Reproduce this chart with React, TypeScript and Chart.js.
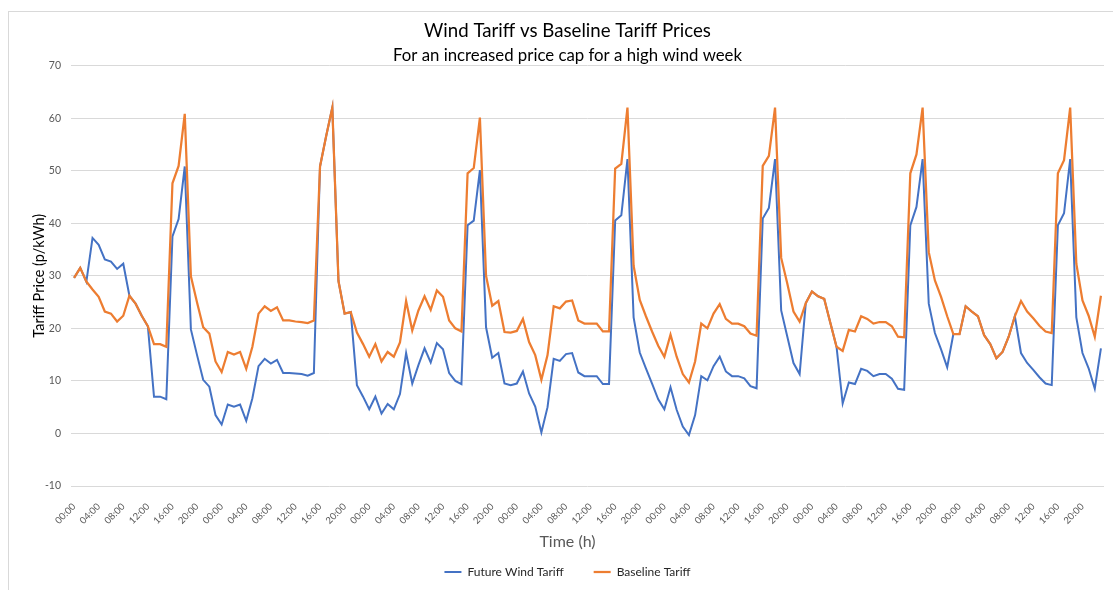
import React, { useEffect, useRef } from "react";
import { Chart, registerables } from "chart.js";

Chart.register(...registerables);

// Hour-of-day category labels, one per hourly reading, repeated over the week.
const HOURS = [
  "00:00", "01:00", "02:00", "03:00", "04:00", "05:00", "06:00", "07:00",
  "08:00", "09:00", "10:00", "11:00", "12:00", "13:00", "14:00", "15:00",
  "16:00", "17:00", "18:00", "19:00", "20:00", "21:00", "22:00", "23:00",
];
const DAYS = 7;
const TIME_LABELS: string[] = [];
for (let d = 0; d < DAYS; d++) TIME_LABELS.push(...HOURS);

// Only every fourth hour carries a visible tick label.
const LABEL_EVERY = 4;

// Y-axis range and step (p/kWh).
const Y_MIN = -10;
const Y_MAX = 70;
const Y_STEP = 10;

// Hourly prices, p/kWh.
const futureWindTariff = [
  // day 1
  29.6, 31.5, 28.9, 37.2, 35.9, 33.1, 32.7, 31.3, 32.3, 26.2, 24.7, 22.4,
  20.4, 7.0, 7.0, 6.5, 37.5, 40.8, 50.8, 19.8, 14.9, 10.2, 8.9, 3.5,
  // day 2
  1.7, 5.5, 5.1, 5.5, 2.4, 6.7, 12.8, 14.2, 13.3, 14.0, 11.5, 11.5,
  11.4, 11.3, 11.0, 11.5, 50.8, 56.6, 62.0, 29.0, 22.8, 23.1, 9.2, 7.0,
  // day 3
  4.6, 7.0, 3.8, 5.6, 4.6, 7.5, 15.3, 9.5, 13.0, 16.2, 13.5, 17.2,
  16.0, 11.5, 10.0, 9.4, 39.6, 40.5, 50.1, 20.2, 14.4, 15.3, 9.5, 9.2,
  // day 4
  9.5, 11.8, 7.6, 5.1, 0.2, 5.0, 14.2, 13.8, 15.1, 15.3, 11.6, 10.9,
  10.9, 10.9, 9.4, 9.4, 40.5, 41.5, 52.2, 22.1, 15.4, 12.4, 9.5, 6.5,
  // day 5
  4.6, 8.8, 4.5, 1.3, -0.3, 3.5, 10.9, 10.1, 12.8, 14.6, 11.8, 10.9,
  10.9, 10.5, 9.0, 8.6, 40.9, 42.9, 52.2, 23.4, 18.4, 13.4, 11.3, 24.8,
  // day 6
  27.0, 26.1, 25.6, 21.0, 16.5, 5.7, 9.7, 9.4, 12.3, 11.9, 10.9, 11.3,
  11.3, 10.4, 8.5, 8.3, 39.6, 43.1, 52.2, 24.7, 19.1, 16.0, 12.6, 18.9,
  // day 7
  18.9, 24.2, 23.2, 22.3, 18.7, 17.0, 14.3, 15.5, 18.4, 22.3, 15.3, 13.4,
  12.1, 10.7, 9.5, 9.2, 39.6, 41.9, 52.2, 22.1, 15.3, 12.4, 8.5, 16.2,
];

const baselineTariff = [
  // day 1
  29.6, 31.5, 28.9, 27.4, 26.0, 23.2, 22.8, 21.3, 22.4, 26.2, 24.7, 22.4,
  20.4, 17.0, 17.0, 16.5, 47.6, 50.9, 60.8, 29.9, 24.9, 20.2, 19.0, 13.7,
  // day 2
  11.7, 15.5, 15.0, 15.5, 12.3, 16.5, 22.8, 24.2, 23.3, 24.0, 21.5, 21.5,
  21.3, 21.2, 21.0, 21.5, 50.8, 56.6, 62.0, 29.0, 22.8, 23.1, 19.2, 17.0,
  // day 3
  14.6, 17.0, 13.7, 15.5, 14.6, 17.3, 25.2, 19.6, 23.4, 26.1, 23.5, 27.2,
  26.0, 21.5, 20.0, 19.4, 49.5, 50.5, 60.1, 30.0, 24.3, 25.2, 19.3, 19.2,
  // day 4
  19.5, 21.8, 17.4, 14.9, 10.2, 14.9, 24.2, 23.8, 25.1, 25.3, 21.5, 20.9,
  20.9, 20.9, 19.4, 19.4, 50.4, 51.3, 62.0, 31.9, 25.4, 22.3, 19.4, 16.7,
  // day 5
  14.6, 18.8, 14.6, 11.3, 9.7, 13.7, 20.9, 20.0, 22.8, 24.6, 21.8, 20.9,
  20.9, 20.4, 19.0, 18.6, 50.9, 52.8, 62.0, 33.4, 28.5, 23.2, 21.3, 24.8,
  // day 6
  27.0, 26.1, 25.6, 21.0, 16.5, 15.7, 19.7, 19.4, 22.3, 21.8, 20.9, 21.2,
  21.2, 20.4, 18.4, 18.3, 49.5, 53.1, 62.0, 34.5, 29.1, 26.0, 22.3, 18.9,
  // day 7
  18.9, 24.2, 23.2, 22.3, 18.7, 17.0, 14.3, 15.5, 18.4, 22.3, 25.2, 23.2,
  21.9, 20.5, 19.4, 19.1, 49.5, 52.0, 62.0, 32.3, 25.3, 22.4, 18.4, 26.2,
];

const FONT = "Lato, 'Noto Sans', sans-serif";
const BLUE = "#4472C4";
const ORANGE = "#ED7D31";

export default function App() {
  const canvasRef = useRef<HTMLCanvasElement | null>(null);

  useEffect(() => {
    const canvas = canvasRef.current;
    if (!canvas) return;

    const chart = new Chart(canvas, {
      type: "line",
      data: {
        labels: TIME_LABELS,
        datasets: [
          {
            label: "Future Wind Tariff",
            data: futureWindTariff,
            borderColor: BLUE,
            backgroundColor: BLUE,
            borderWidth: 2,
            pointRadius: 0,
            pointStyle: "line",
            tension: 0,
            order: 1,
          },
          {
            // lower order: painted above the wind series, so shared hours show orange
            label: "Baseline Tariff",
            data: baselineTariff,
            borderColor: ORANGE,
            backgroundColor: ORANGE,
            borderWidth: 2.25,
            pointRadius: 0,
            pointStyle: "line",
            tension: 0,
            order: 0,
          },
        ],
      },
      options: {
        animation: false,
        responsive: false,
        devicePixelRatio: 1,
        events: [],
        layout: { padding: { left: 22, right: 9, top: 0, bottom: 2 } },
        plugins: {
          title: {
            display: true,
            text: "Wind Tariff vs Baseline Tariff Prices",
            color: "#000000",
            font: { family: FONT, size: 18.67, weight: "normal" },
            padding: { top: 8, bottom: 0 },
          },
          subtitle: {
            display: true,
            text: "For an increased price cap for a high wind week",
            color: "#000000",
            font: { family: FONT, size: 16.8, weight: "normal" },
            padding: { top: 3, bottom: 0 },
          },
          legend: {
            position: "bottom",
            labels: {
              usePointStyle: true,
              pointStyleWidth: 17,
              boxHeight: 12,
              padding: 30,
              color: "#262626",
              font: { family: FONT, size: 12 },
              sort: (a, b) => (a.datasetIndex ?? 0) - (b.datasetIndex ?? 0),
            },
            title: {
              display: true,
              text: "Time (h)",
              color: "#595959",
              font: { family: FONT, size: 16, weight: "normal" },
              padding: { top: 0, bottom: -17.2 },
            },
          },
          tooltip: { enabled: false },
        },
        scales: {
          x: {
            offset: true,
            grid: { display: false },
            border: { display: false },
            ticks: {
              autoSkip: false,
              minRotation: 45,
              maxRotation: 45,
              padding: 7,
              color: "#595959",
              font: { family: FONT, size: 9.5 },
              callback: (_value, index) =>
                index % LABEL_EVERY === 0 ? TIME_LABELS[index] : null,
            },
            afterFit: (scale) => {
              scale.height = 48;
            },
          },
          y: {
            min: Y_MIN,
            max: Y_MAX,
            ticks: {
              stepSize: Y_STEP,
              padding: 10,
              color: "#595959",
              font: { family: FONT, size: 10.5 },
            },
            grid: { color: "#d9d9d9", lineWidth: 1, drawTicks: false },
            border: { display: false },
            title: {
              display: true,
              text: "Tariff Price (p/kWh)",
              color: "#000000",
              font: { family: FONT, size: 14.5, weight: "normal" },
              padding: { top: 0, bottom: 0 },
            },
            afterFit: (scale) => {
              scale.width = 40;
            },
          },
        },
      },
    });

    return () => chart.destroy();
  }, []);

  return (
    <div
      style={{
        position: "absolute",
        left: 8,
        top: 11,
        width: 1105,
        height: 579,
        boxSizing: "border-box",
        borderLeft: "1px solid #d9d9d9",
        borderTop: "1px solid #d9d9d9",
        background: "#ffffff",
        overflow: "hidden",
      }}
    >
      <canvas
        ref={canvasRef}
        width={1104}
        height={578}
        style={{ position: "absolute", left: 0, top: 0, width: 1104, height: 578 }}
      />
    </div>
  );
}
